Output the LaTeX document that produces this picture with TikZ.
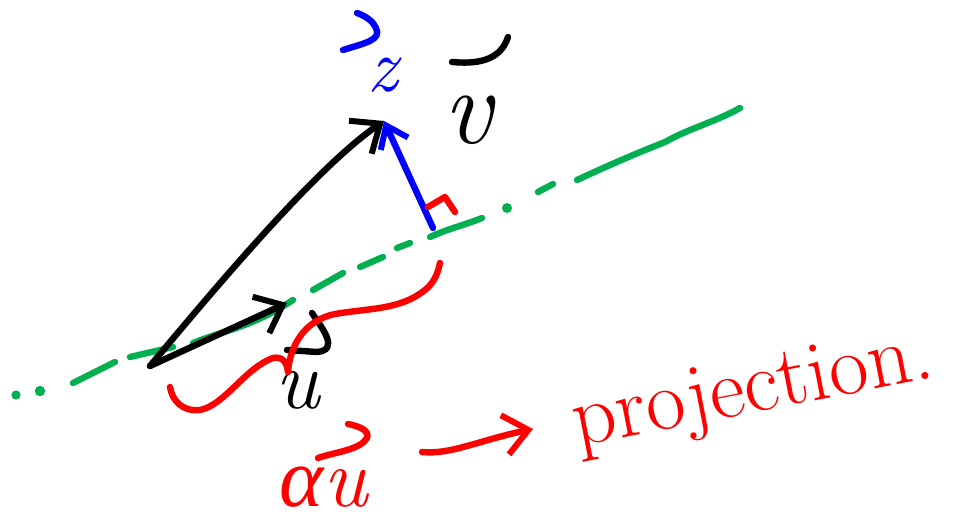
\documentclass[tikz,border=0pt]{standalone}
\usepackage{fontspec}
\newfontfamily\greekfont{Liberation Serif}
\usetikzlibrary{arrows.meta}
\begin{document}
\begin{tikzpicture}[x=0.5pt,y=-0.5pt,line cap=round,line join=round,
  pen/.style={line width=3.2pt},
  vecarrow/.style={pen,-{Straight Barb[length=12pt,width=20pt,line width=3pt]}},
  smallarrow/.style={pen,-{Straight Barb[length=10pt,width=15pt,line width=3pt]}},
  lbl/.style={inner sep=0pt,outer sep=0pt,anchor=base}]
\definecolor{hgreen}{RGB}{0,176,80}
\definecolor{hred}{RGB}{255,0,0}
\definecolor{hblue}{RGB}{0,0,255}
\useasboundingbox (0,0) rectangle (964,524);

% key points
\coordinate (O) at (150,366);
\coordinate (Vt) at (384,121);
\coordinate (Ut) at (287,303);
\coordinate (P) at (433,228);

% green dashed line through u
\fill[hgreen] (16,395) circle (2.3pt) (40,391) circle (2.6pt) (507,208) circle (2.5pt);
\draw[hgreen,pen]
  (73,383) -- (115,362)
  (130,357) -- (173,347)
  (193,343) .. controls (225,330) and (250,328) .. (293,300)
  (313,290) -- (343,273)
  (360,267) -- (383,257)
  (397,248) -- (410,243)
  (430,237) .. controls (450,228) and (465,225) .. (482,218)
  (538,192) -- (553,184)
  (577,180) .. controls (620,160) and (645,150) .. (665,142)
            .. controls (690,128) and (715,122) .. (740,108);

% vectors
\draw[vecarrow] (O) .. controls (230,270) and (320,165) .. (Vt);
\draw[vecarrow] (O) -- (Ut);
\draw[smallarrow,hblue] (P) -- (Vt);

% right angle mark
\draw[hred,pen] (428,207) -- (445,197) -- (455,212);

% labels
\node[lbl,font=\fontsize{54}{54}\selectfont\itshape] (vlab) at (468,143) {v};
\draw[pen] (452,62) .. controls (475,64) and (500,62) .. (508,37);
\node[lbl,font=\fontsize{42}{42}\selectfont\itshape] (ulab) at (298,408) {u};
\draw[pen] (312,313) .. controls (322,328) and (340,350) .. (317,352) -- (287,350);
\node[lbl,font=\fontsize{38}{38}\selectfont\itshape,text=hblue] (zlab) at (383,92) {z};
\draw[pen,hblue] (343,50) .. controls (365,43) and (382,40) .. (376,28) .. controls (372,20) and (365,16) .. (357,13);

% red brace under the projection
\draw[hred,pen] (170,387) .. controls (172,400) and (182,412) .. (200,410)
  .. controls (225,405) and (245,368) .. (273,358)
  .. controls (282,356) and (287,362) .. (288,372);
\draw[hred,pen] (288,372) .. controls (290,345) and (305,320) .. (335,314)
  .. controls (370,308) and (400,310) .. (425,290) .. controls (435,282) and (438,272) .. (440,263);

% alpha u -> projection
\node[lbl,font=\fontsize{42}{42}\selectfont\itshape,text=hred] (au) at (324,506) {{\greekfont α}u};
\draw[pen,hred] (318,458) .. controls (335,452) and (360,450) .. (367,438) .. controls (370,430) and (358,426) .. (348,424);
\node[lbl,font=\fontsize{43}{43}\selectfont,text=hred,rotate=11] (proj) at (757,412) {projection.};
\coordinate (arrS) at (422,452);
\coordinate (arrE) at (533,429);
\draw[hred,vecarrow] (arrS) .. controls (450,455) and (480,440) .. (arrE);
\end{tikzpicture}
\end{document}
